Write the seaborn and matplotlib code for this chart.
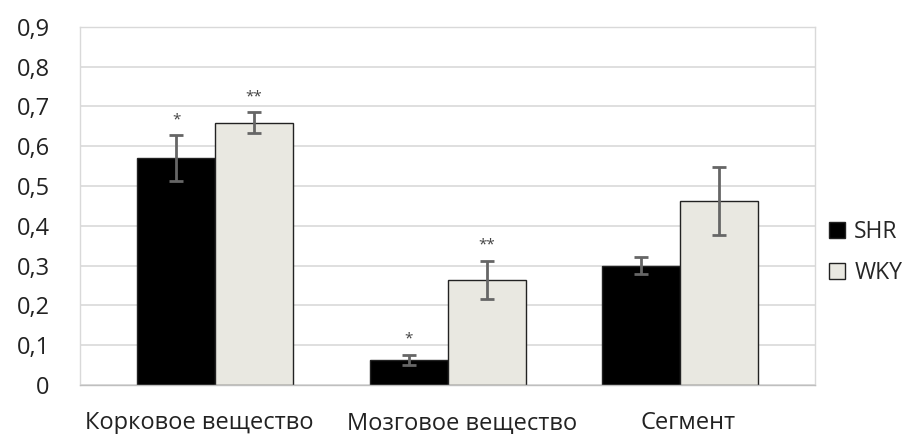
import numpy as np
import pandas as pd
import matplotlib
matplotlib.use("Agg")
import matplotlib.pyplot as plt
import matplotlib.transforms as mtransforms
import seaborn as sns

# данные
categories = ["Корковое вещество", "Мозговое вещество", "Сегмент"]
groups = ["SHR", "WKY"]
shr_vals = [0.57, 0.063, 0.300]
wky_vals = [0.659, 0.264, 0.463]
shr_err = [0.058, 0.013, 0.022]
wky_err = [0.026, 0.048, 0.085]
shr_marks = ["*", "*", ""]
wky_marks = ["**", "**", ""]
yticks = [0, 0.1, 0.2, 0.3, 0.4, 0.5, 0.6, 0.7, 0.8, 0.9]

df = pd.DataFrame({
    "cat": categories * 2,
    "group": ["SHR"] * 3 + ["WKY"] * 3,
    "val": shr_vals + wky_vals,
})

sns.set_theme(style="white")
plt.rcParams["font.family"] = ["Open Sans", "DejaVu Sans"]

fig, ax = plt.subplots(figsize=(9.13, 4.34), dpi=100)
fig.subplots_adjust(left=0.088, right=0.893, top=0.938, bottom=0.113)

sns.barplot(data=df, x="cat", y="val", hue="group", hue_order=groups,
            palette={"SHR": "#000000", "WKY": "#EBE9DF"}, width=0.67,
            edgecolor="#222222", linewidth=1.0, errorbar=None, ax=ax)

errs = [shr_err, wky_err]
vals = [shr_vals, wky_vals]
marks = [shr_marks, wky_marks]
bar_conts = list(ax.containers)
for i, cont in enumerate(bar_conts):
    for j, bar in enumerate(cont.patches):
        xc = bar.get_x() + bar.get_width() / 2
        ax.errorbar(xc, vals[i][j], yerr=errs[i][j], color="#666666",
                    capsize=5, capthick=2, elinewidth=2, zorder=5)
        if marks[i][j]:
            ax.text(xc, vals[i][j] + errs[i][j] + 0.02, marks[i][j],
                    ha="center", va="bottom", fontsize=11, color="#444444")

ax.set_ylim(0, 0.9)
ax.set_xlim(-0.58, 2.58)
ax.set_yticks(yticks)
ax.set_yticklabels([("%g" % t).replace(".", ",") for t in yticks],
                   fontsize=17, color="#222222")
ax.tick_params(axis="x", labelsize=17, colors="#222222", pad=13)
ax.tick_params(axis="y", pad=16)
ax.set_xlabel("")
ax.set_ylabel("")

# подписи категорий немного раздвинуты, как в оригинале
for lab, dx in zip(ax.get_xticklabels(), [-16, 14, 8]):
    lab.set_transform(lab.get_transform() +
                      mtransforms.ScaledTranslation(dx / 100, 0, fig.dpi_scale_trans))

ax.yaxis.grid(True, color="#D9D9D9", linewidth=1.2)
ax.set_axisbelow(True)
for s in ax.spines.values():
    s.set_color("#D9D9D9")
    s.set_linewidth(1.0)
ax.spines["bottom"].set_color("#BFBFBF")

ax.legend(loc="center left", bbox_to_anchor=(1.0, 0.37), frameon=False,
          fontsize=16.5, handlelength=0.7, handleheight=0.7, handletextpad=0.4,
          labelspacing=0.75, borderaxespad=0.2)

fig.savefig("out.png", dpi=100)
